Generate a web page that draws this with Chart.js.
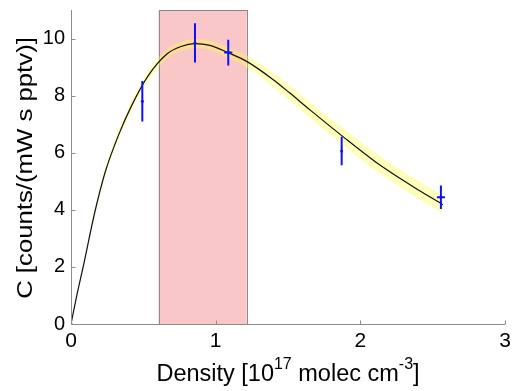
<!DOCTYPE html>
<html>
<head>
<meta charset="utf-8">
<script src="https://cdn.jsdelivr.net/npm/chart.js@4.4.1/dist/chart.umd.min.js"></script>
<style>
  html, body { margin: 0; padding: 0; background: #ffffff; }
  #wrap { width: 514px; height: 391px; position: relative; }
</style>
</head>
<body>
<div id="wrap"><canvas id="c" width="514" height="391"></canvas></div>
<script>
// ---- data ----
const density = [0.493, 0.857, 1.087, 1.871, 2.557];      // 10^17 molec cm^-3
const signal = [7.8, 9.85, 9.51, 6.06, 4.44];             // counts/(mW s pptv)
const signalErr = [0.71, 0.69, 0.45, 0.5, 0.41];
const densityErr = [0.006, 0.006, 0.028, 0.006, 0.028];

const fitX = [0, 0.04, 0.084, 0.166, 0.235, 0.327, 0.419, 0.534, 0.661, 0.76, 0.857, 0.96, 1.087, 1.214, 1.398, 1.513, 1.652, 1.871, 2.113, 2.343, 2.57];
const fitC = [0, 1.0, 2.0, 3.95, 5.3, 6.6, 7.65, 8.7, 9.45, 9.72, 9.82, 9.76, 9.5, 9.2, 8.56, 8.09, 7.5, 6.6, 5.65, 4.88, 4.18];
const fitBand = [0, 0.03, 0.05, 0.09, 0.12, 0.15, 0.17, 0.18, 0.17, 0.16, 0.16, 0.17, 0.19, 0.21, 0.25, 0.27, 0.28, 0.3, 0.31, 0.31, 0.31];

const shadeRange = [0.605, 1.215];
const xTicks = [0, 1, 2, 3];
const yTicks = [0, 2, 4, 6, 8, 10];
const xTitleParts = [["Density [10", false], ["17", true], [" molec cm", false], ["-3", true], ["]", false]];
const yTitle = "C [counts/(mW s pptv)]";

// ---- build datasets ----
const fitLine = fitX.map((x, i) => ({ x: x, y: fitC[i] }));
const bandLow = fitX.map((x, i) => ({ x: x, y: fitC[i] - fitBand[i] }));
const bandHigh = fitX.map((x, i) => ({ x: x, y: fitC[i] + fitBand[i] }));

const vErr = [];
const hErr = [];
density.forEach((x, i) => {
  vErr.push({ x: x, y: signal[i] - signalErr[i] }, { x: x, y: signal[i] + signalErr[i] }, { x: x, y: null });
  hErr.push({ x: x - densityErr[i], y: signal[i] }, { x: x + densityErr[i], y: signal[i] }, { x: x, y: null });
});
const centers = density.map((x, i) => ({ x: x, y: signal[i] }));
centers.push({ x: 0, y: 0 });

const FONT = "'Liberation Sans', Arial, sans-serif";
const AXIS_COLOR = "#8c8c8c";
const BLUE = '#1010ff';

const decorPlugin = {
  id: 'decor',
  beforeDatasetsDraw(chart) {
    const { ctx, scales: { x, y } } = chart;
    const x0 = x.getPixelForValue(shadeRange[0]);
    const x1 = x.getPixelForValue(shadeRange[1]);
    const yTop = y.getPixelForValue(y.max);
    const yBot = y.getPixelForValue(y.min);
    ctx.save();
    ctx.fillStyle = 'rgb(249,199,199)';
    ctx.fillRect(x0, yTop, x1 - x0, yBot - yTop);
    ctx.strokeStyle = '#8a8a8a';
    ctx.lineWidth = 1;
    ctx.strokeRect(Math.round(x0) + 0.5, Math.round(yTop) + 0.5, Math.round(x1 - x0), Math.round(yBot - yTop));
    ctx.restore();
  },
  afterDraw(chart) {
    const { ctx, chartArea: a, scales: { x, y } } = chart;
    ctx.save();
    ctx.strokeStyle = AXIS_COLOR;
    ctx.lineWidth = 1;
    ctx.beginPath();
    const bx = Math.round(a.left) + 0.5, by = Math.round(a.bottom) + 0.5;
    ctx.moveTo(bx, Math.round(a.top));
    ctx.lineTo(bx, by);
    ctx.lineTo(Math.round(a.right), by);
    xTicks.forEach(v => {
      const px = Math.round(x.getPixelForValue(v)) + 0.5;
      ctx.moveTo(px, by);
      ctx.lineTo(px, by - 4);
    });
    yTicks.forEach(v => {
      const py = Math.round(y.getPixelForValue(v)) + 0.5;
      ctx.moveTo(bx, py);
      ctx.lineTo(bx + 4, py);
    });
    ctx.stroke();

    // y title
    ctx.fillStyle = '#000';
    ctx.font = "22px " + FONT;
    ctx.textAlign = 'center';
    ctx.textBaseline = 'middle';
    ctx.save();
    ctx.translate(26, (a.top + a.bottom) / 2 + 1);
    ctx.rotate(-Math.PI / 2);
    ctx.scale(1.17, 1);
    ctx.fillText(yTitle, 0, 0);
    ctx.restore();

    // x title with superscripts
    const big = "23.5px " + FONT, small = "16px " + FONT;
    let total = 0;
    xTitleParts.forEach(([t, sup]) => { ctx.font = sup ? small : big; total += ctx.measureText(t).width; });
    let cx = (a.left + a.right) / 2 - total / 2;
    const base = 381;
    ctx.textAlign = 'left';
    ctx.textBaseline = 'alphabetic';
    xTitleParts.forEach(([t, sup]) => {
      ctx.font = sup ? small : big;
      ctx.fillText(t, cx, sup ? base - 12 : base);
      cx += ctx.measureText(t).width;
    });
    ctx.restore();
  }
};

new Chart(document.getElementById('c'), {
  type: 'scatter',
  data: {
    datasets: [
      { order: 6, data: bandLow, showLine: true, borderWidth: 0, pointRadius: 0, fill: false, borderColor: 'rgba(0,0,0,0)', cubicInterpolationMode: 'monotone' },
      { order: 5, data: bandHigh, showLine: true, borderWidth: 0, pointRadius: 0, fill: '-1', borderColor: 'rgba(0,0,0,0)', backgroundColor: 'rgba(255,255,80,0.38)', cubicInterpolationMode: 'monotone' },
      { order: 4, data: fitLine, showLine: true, borderWidth: 1.2, borderColor: '#111111', pointRadius: 0, fill: false, cubicInterpolationMode: 'monotone' },
      { order: 3, data: vErr, showLine: true, spanGaps: false, borderWidth: 2, borderColor: BLUE, pointRadius: 0, fill: false },
      { order: 2, data: hErr, showLine: true, spanGaps: false, borderWidth: 2, borderColor: BLUE, pointRadius: 0, fill: false },
      { order: 1, data: centers, showLine: false, pointRadius: 1.5, pointBorderWidth: 0, backgroundColor: BLUE }
    ]
  },
  options: {
    responsive: false,
    animation: false,
    layout: { padding: { top: 10, right: 9, left: 0, bottom: 0 } },
    plugins: { legend: { display: false }, tooltip: { enabled: false }, title: { display: false } },
    scales: {
      x: {
        type: 'linear', min: 0, max: 3,
        grid: { display: false, drawTicks: false },
        border: { display: false },
        afterBuildTicks: s => { s.ticks = xTicks.map(v => ({ value: v })); },
        afterFit: s => { s.height = 67; s.paddingLeft = 0; s.paddingRight = 0; },
        ticks: { color: '#000', font: { family: FONT, size: 21 }, padding: 5, maxRotation: 0 }
      },
      y: {
        type: 'linear', min: 0, max: 11,
        grid: { display: false, drawTicks: false },
        border: { display: false },
        afterBuildTicks: s => { s.ticks = yTicks.map(v => ({ value: v })); },
        afterFit: s => { s.width = 71; s.paddingTop = 0; s.paddingBottom = 0; },
        ticks: { color: '#000', font: { family: FONT, size: 20 }, padding: 6 }
      }
    }
  },
  plugins: [decorPlugin]
});
</script>
</body>
</html>
